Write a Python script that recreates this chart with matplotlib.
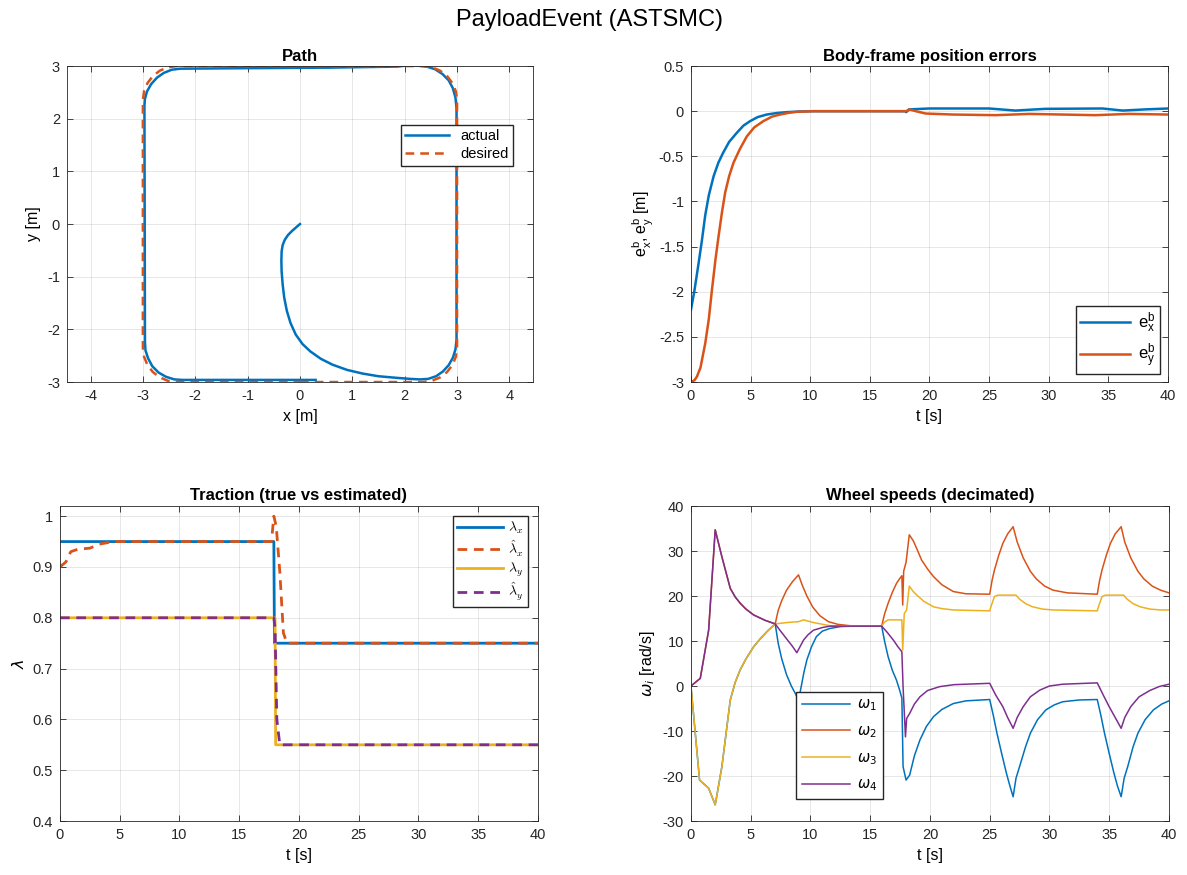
import numpy as np
import matplotlib
matplotlib.use('Agg')
import matplotlib.pyplot as plt
from matplotlib.ticker import FuncFormatter

plt.rcParams['font.family'] = ['Liberation Sans', 'DejaVu Sans']
plt.rcParams['axes.unicode_minus'] = False

BLUE = '#0072BD'
ORANGE = '#D95319'
YELLOW = '#EDB120'
PURPLE = '#7E2F8E'

# ---- Path ----
desired_x = [0, 2.35, 2.518, 2.675, 2.81, 2.913, 2.978, 3.0,
             3.0, 2.978, 2.913, 2.81, 2.675, 2.518, 2.35,
             -2.35, -2.518, -2.675, -2.81, -2.913, -2.978, -3.0,
             -3.0, -2.978, -2.913, -2.81, -2.675, -2.518, -2.35, 0]
desired_y = [-3.0, -3.0, -2.978, -2.913, -2.81, -2.675, -2.518, -2.35,
             2.35, 2.518, 2.675, 2.81, 2.913, 2.978, 3.0,
             3.0, 2.978, 2.913, 2.81, 2.675, 2.518, 2.35,
             -2.35, -2.518, -2.675, -2.81, -2.913, -2.978, -3.0, -3.0]
actual_x = [0, -0.07, -0.15, -0.23, -0.29, -0.33, -0.35, -0.355, -0.35, -0.33, -0.3, -0.25, -0.18,
            -0.08, 0.05, 0.2, 0.4, 0.62, 0.9, 1.2, 1.5, 1.84, 2.1, 2.29,
            2.45, 2.6, 2.73, 2.84, 2.92, 2.97, 2.99, 2.99,
            2.99, 2.97, 2.92, 2.84, 2.72, 2.58, 2.42, 2.25, 2.1, 1.95, 1.85,
            0.57, -1.02, -2.29,
            -2.45, -2.6, -2.73, -2.84, -2.92, -2.96, -2.97,
            -2.96, -2.95, -2.9, -2.82, -2.7, -2.56, -2.4, -2.25, 0.3]
actual_y = [0, -0.06, -0.13, -0.21, -0.3, -0.4, -0.52, -0.7, -0.9, -1.15, -1.4, -1.65, -1.88,
            -2.1, -2.28, -2.42, -2.56, -2.67, -2.77, -2.84, -2.89, -2.92, -2.94, -2.95,
            -2.94, -2.89, -2.8, -2.68, -2.54, -2.38, -2.2, -2.05,
            2.2, 2.4, 2.58, 2.73, 2.85, 2.94, 2.99, 3.01, 3.02, 3.0, 2.99,
            2.97, 2.96, 2.95,
            2.93, 2.87, 2.78, 2.66, 2.52, 2.38, 2.25,
            -2.24, -2.4, -2.55, -2.7, -2.82, -2.9, -2.95, -2.96, -2.96]

# ---- Body-frame errors ----
t_ex = [0, 0.3, 0.6, 0.9, 1.2, 1.5, 1.9, 2.3, 2.7, 3.2, 3.84, 4.4, 4.96, 5.6, 6.35, 7.2, 8.0, 9.0,
        10.25, 18.0, 18.05, 18.3, 20, 25, 27.2, 29.7, 34.5, 36.2, 38.1, 40]
ex = [-2.2, -1.98, -1.72, -1.45, -1.15, -0.93, -0.72, -0.57, -0.46, -0.34, -0.24, -0.16, -0.11,
      -0.065, -0.037, -0.02, -0.011, -0.004, 0, 0, -0.01, 0.02, 0.03, 0.03, 0.007, 0.026, 0.03,
      0.007, 0.02, 0.03]
t_ey = [0, 0.3, 0.5, 0.8, 1.2, 1.5, 1.76, 2.05, 2.31, 2.6, 2.87, 3.2, 3.57, 4.1, 4.68, 5.3, 6.07,
        6.8, 7.47, 8.2, 8.86, 10.25, 18.05, 18.3, 19.0, 19.7, 21.96, 25.57, 28.36, 33.9, 36.7, 40]
ey = [-3.0, -2.98, -2.94, -2.84, -2.57, -2.3, -1.98, -1.65, -1.39, -1.12, -0.9, -0.72, -0.57,
      -0.42, -0.28, -0.18, -0.11, -0.06, -0.037, -0.018, -0.007, 0, 0, 0.02, -0.005, -0.026,
      -0.037, -0.044, -0.03, -0.044, -0.03, -0.037]

# ---- Traction ----
t_lx = [0, 17.9, 17.95, 40]
lam_x = [0.95, 0.95, 0.75, 0.75]
t_lx_hat = [0, 0.5, 0.9, 1.5, 2.5, 3.3, 4.5, 17.7, 17.9, 18.1, 18.4, 18.7, 19.0, 40]
lam_x_hat = [0.9, 0.91, 0.93, 0.935, 0.937, 0.945, 0.95, 0.95, 1.0, 0.98, 0.89, 0.77, 0.75, 0.75]
t_ly = [0, 18.0, 18.05, 40]
lam_y = [0.8, 0.8, 0.55, 0.55]
t_ly_hat = [0, 17.9, 18.0, 18.15, 18.4, 40]
lam_y_hat = [0.8, 0.8, 0.78, 0.6, 0.55, 0.55]

# ---- Wheel speeds ----
t_w1 = [0, 0.72, 1.48, 2.03, 2.59, 3.29, 3.7, 4.12, 4.6, 5.24, 5.8, 6.4, 7.05,
        7.3, 7.6, 8.0, 8.4, 8.8, 9.0, 9.2, 9.45, 9.7, 10.1, 10.5, 11.0, 11.64, 12.5, 13.5,
        15.96, 16.2, 16.5, 16.85, 17.2, 17.45, 17.65, 17.75, 18.0, 18.3, 18.7, 19.16, 19.7,
        20.3, 21.0, 21.95, 23.0, 25.0,
        25.3, 25.6, 26.0, 26.4, 26.7, 26.96, 27.2, 27.5, 28.0, 28.4, 29.0, 29.7, 30.4, 31.1,
        32.5, 34.0,
        34.3, 34.6, 35.0, 35.4, 35.7, 36.0, 36.25, 36.55, 37.0, 37.4, 38.0, 38.7, 39.4, 40]
w1 = [0, -20.9, -22.7, -26.4, -17.9, -3.1, 0.8, 3.6, 6.0, 8.7, 10.5, 12.2, 13.8,
      9.5, 6.0, 2.5, 0.0, -2.0, -3.3, -0.5, 3.0, 5.8, 8.8, 11.0, 12.2, 12.8, 13.2, 13.3,
      13.3, 10.0, 6.5, 3.5, 1.3, -0.8, -2.7, -17.9, -20.9, -19.8, -15.5, -12.0, -9.0,
      -6.8, -5.2, -3.9, -3.3, -3.0,
      -6.5, -10.4, -15.0, -19.4, -22.3, -24.6, -20.5, -17.9, -13.5, -10.5, -7.5, -5.3, -4.2,
      -3.5, -3.1, -3.0,
      -6.5, -10.4, -15.0, -19.4, -22.3, -24.6, -20.5, -17.9, -13.5, -10.5, -7.5, -5.3, -4.0,
      -3.3]
t_w2 = [0, 0.78, 1.48, 2.03, 2.59, 3.29, 3.7, 4.12, 4.6, 5.24, 6.2, 7.05,
        7.3, 7.6, 8.0, 8.5, 9.0, 9.3, 9.7, 10.2, 10.8, 11.5, 12.3, 13.3,
        15.96, 16.2, 16.5, 16.85, 17.2, 17.45, 17.65, 17.72, 17.8, 18.0, 18.27, 18.6, 18.9,
        19.3, 19.8, 20.3, 21.0, 21.95, 23.0, 25.0,
        25.2, 25.4, 25.75, 26.1, 26.5, 26.96, 27.3, 27.8, 28.4, 28.9, 29.6, 30.3, 31.5, 34.0,
        34.2, 34.4, 34.75, 35.1, 35.5, 36.0, 36.3, 36.8, 37.4, 37.9, 38.6, 39.3, 40]
w2 = [0, 1.7, 12.4, 34.7, 28.7, 21.7, 19.8, 18.4, 17.1, 15.8, 14.6, 13.8,
      16.8, 19.0, 21.3, 23.2, 24.7, 22.5, 20.0, 17.5, 15.6, 14.3, 13.7, 13.4,
      13.3, 16.0, 18.4, 20.8, 22.8, 23.8, 24.5, 18.0, 25.5, 27.5, 33.6, 32.3, 30.5,
      28.0, 26.0, 24.3, 22.5, 21.0, 20.5, 20.4,
      23.5, 25.8, 29.0, 31.7, 33.8, 35.4, 32.0, 28.5, 25.5, 23.8, 22.2, 21.3, 20.7, 20.4,
      23.5, 25.8, 29.0, 31.7, 33.8, 35.4, 32.0, 28.5, 25.5, 23.8, 22.2, 21.3, 20.7]
t_w3 = [0, 0.72, 1.48, 2.03, 2.59, 3.29, 3.7, 4.12, 4.6, 5.24, 5.8, 6.4, 7.05,
        8.02, 9.0, 9.42, 10.25, 11.64, 15.96, 16.2, 16.5, 17.65, 17.72, 17.85, 18.05, 18.27,
        18.6, 18.9, 19.5, 20.3, 21.0, 21.95, 25.0,
        25.15, 25.4, 25.7, 27.2, 27.5, 28.0, 28.6, 29.4, 30.3, 34.0,
        34.15, 34.4, 34.7, 36.2, 36.5, 37.0, 37.6, 38.4, 39.3, 40]
w3 = [0, -20.9, -22.7, -26.4, -17.9, -3.1, 0.8, 3.6, 6.0, 8.7, 10.5, 12.2, 13.8,
      14.1, 14.3, 14.7, 14.1, 13.4, 13.3, 14.2, 14.7, 14.7, 8.0, 16.1, 16.9, 22.2,
      21.0, 20.2, 18.8, 17.6, 17.2, 16.9, 16.7,
      18.0, 19.9, 20.2, 20.2, 19.3, 18.3, 17.6, 17.1, 16.9, 16.7,
      18.0, 19.9, 20.2, 20.2, 19.3, 18.3, 17.6, 17.1, 16.9, 16.9]
t_w4 = [0, 0.78, 1.48, 2.03, 2.59, 3.29, 3.7, 4.12, 4.6, 5.24, 6.2, 7.05,
        7.5, 8.0, 8.5, 8.86, 9.1, 9.42, 9.8, 10.25, 11.0, 11.64,
        15.96, 16.4, 16.94, 17.3, 17.65, 17.75, 17.95, 18.05, 18.3, 18.7, 19.16, 19.8, 20.8,
        22.0, 25.0,
        25.5, 26.1, 26.5, 26.96, 27.3, 27.8, 28.4, 29.2, 30.0, 31.1, 34.0,
        34.5, 35.0, 35.5, 36.0, 36.3, 36.8, 37.5, 38.4, 39.2, 40]
w4 = [0, 1.7, 12.4, 34.7, 28.7, 21.7, 19.8, 18.4, 17.1, 15.8, 14.6, 13.8,
      12.2, 10.5, 8.8, 7.4, 8.6, 10.2, 11.4, 12.4, 13.0, 13.3,
      13.3, 12.0, 10.2, 8.8, 7.6, -0.15, -11.3, -7.2, -6.1, -4.0, -2.4, -1.0, -0.15,
      0.3, 0.6,
      -2.0, -4.6, -7.0, -9.4, -7.0, -4.6, -2.4, -0.9, 0.0, 0.4, 0.7,
      -2.0, -4.6, -7.0, -9.4, -7.0, -4.6, -2.4, -1.0, -0.1, 0.4]

fig = plt.figure(figsize=(11.87, 8.75), dpi=100)
fig.suptitle('PayloadEvent (ASTSMC)', fontsize=17, x=0.497, y=0.99)

gfmt = FuncFormatter(lambda v, p: '%g' % v)


def style(ax):
    ax.grid(True, color='#262626', alpha=0.13, linewidth=0.6)
    ax.set_axisbelow(True)
    ax.tick_params(direction='in', top=True, right=True, length=4, width=0.6,
                   colors='#262626', labelsize=10.5, pad=5)
    for s in ax.spines.values():
        s.set_color('#262626')
        s.set_linewidth(0.6)
    ax.xaxis.set_major_formatter(gfmt)
    ax.yaxis.set_major_formatter(gfmt)


# Path
ax1 = fig.add_axes([0.0564, 0.5634, 0.3926, 0.3611])
ax1.plot(actual_x, actual_y, color=BLUE, lw=1.8, label='actual')
ax1.plot(desired_x, desired_y, color=ORANGE, lw=1.8, dashes=(3.5, 2.4), label='desired')
ax1.set_xlim(-4.45, 4.45)
ax1.set_ylim(-3, 3)
ax1.set_xticks(range(-4, 5))
ax1.set_yticks(range(-3, 4))
style(ax1)
ax1.set_title('Path', fontweight='bold', fontsize=12, pad=4)
ax1.set_xlabel('x [m]', fontsize=11.5)
ax1.set_ylabel('y [m]', fontsize=11.5)
ax1.legend(loc='upper right', bbox_to_anchor=(0.958, 0.815), fancybox=False, framealpha=1,
           edgecolor='#262626', fontsize=10.5, handlelength=3.0, borderpad=0.3,
           labelspacing=0.3, borderaxespad=0)

# Errors
ax2 = fig.add_axes([0.5821, 0.5634, 0.4019, 0.3611])
ax2.plot(t_ex, ex, color=BLUE, lw=1.8, label=r'$\mathregular{e^b_x}$')
ax2.plot(t_ey, ey, color=ORANGE, lw=1.8, label=r'$\mathregular{e^b_y}$')
ax2.set_xlim(0, 40)
ax2.set_ylim(-3, 0.5)
ax2.set_xticks(range(0, 41, 5))
ax2.set_yticks(np.arange(-3, 0.51, 0.5))
style(ax2)
ax2.set_title('Body-frame position errors', fontweight='bold', fontsize=12, pad=4)
ax2.set_xlabel('t [s]', fontsize=11.5)
ax2.set_ylabel(r'$\mathregular{e^b_x, e^b_y}$ [m]', fontsize=11.5, labelpad=2)
ax2.legend(loc='lower right', fancybox=False, framealpha=1, edgecolor='#262626',
           fontsize=12, handlelength=3.0, handletextpad=0.5, borderpad=0.25,
           labelspacing=0.4, borderaxespad=0.5)

# Traction
ax3 = fig.add_axes([0.0505, 0.0617, 0.4027, 0.36])
ax3.plot(t_lx, lam_x, color=BLUE, lw=2, label=r'$\lambda_x$')
ax3.plot(t_lx_hat, lam_x_hat, color=ORANGE, lw=2, dashes=(3.5, 2.4), label=r'$\hat{\lambda}_x$')
ax3.plot(t_ly, lam_y, color=YELLOW, lw=2, label=r'$\lambda_y$')
ax3.plot(t_ly_hat, lam_y_hat, color=PURPLE, lw=2, dashes=(3.5, 2.4), label=r'$\hat{\lambda}_y$')
ax3.set_xlim(0, 40)
ax3.set_ylim(0.4, 1.02)
ax3.set_xticks(range(0, 41, 5))
ax3.set_yticks(np.arange(0.4, 1.01, 0.1))
style(ax3)
ax3.set_yticklabels(['0.4', '0.5', '0.6', '0.7', '0.8', '0.9', '1'])
ax3.set_title('Traction (true vs estimated)', fontweight='bold', fontsize=12, pad=4)
ax3.set_xlabel('t [s]', fontsize=11.5)
ax3.set_ylabel(r'$\lambda$', fontsize=11.5)
ax3.legend(loc='upper right', fancybox=False, framealpha=1, edgecolor='#262626',
           prop={'size': 10, 'math_fontfamily': 'cm'}, handlelength=3.3, handletextpad=0.4,
           borderpad=0.3, labelspacing=0.15, borderaxespad=0.7)

# Wheel speeds
ax4 = fig.add_axes([0.5821, 0.0617, 0.4027, 0.36])
ax4.plot(t_w1, w1, color=BLUE, lw=1.1, label=r'$\omega_1$')
ax4.plot(t_w2, w2, color=ORANGE, lw=1.1, label=r'$\omega_2$')
ax4.plot(t_w3, w3, color=YELLOW, lw=1.1, label=r'$\omega_3$')
ax4.plot(t_w4, w4, color=PURPLE, lw=1.1, label=r'$\omega_4$')
ax4.set_xlim(0, 40)
ax4.set_ylim(-30, 40)
ax4.set_xticks(range(0, 41, 5))
ax4.set_yticks(range(-30, 41, 10))
style(ax4)
ax4.set_title('Wheel speeds (decimated)', fontweight='bold', fontsize=12, pad=4)
ax4.set_xlabel('t [s]', fontsize=11.5)
ax4.set_ylabel(r'$\omega_i$ [rad/s]', fontsize=11.5)
ax4.legend(loc='upper left', bbox_to_anchor=(0.22, 0.41), fancybox=False, framealpha=1,
           edgecolor='#262626', fontsize=10.5, handlelength=3.3, handletextpad=0.5,
           borderpad=0.4, labelspacing=0.75, borderaxespad=0)

fig.savefig('out.png', dpi=100)
